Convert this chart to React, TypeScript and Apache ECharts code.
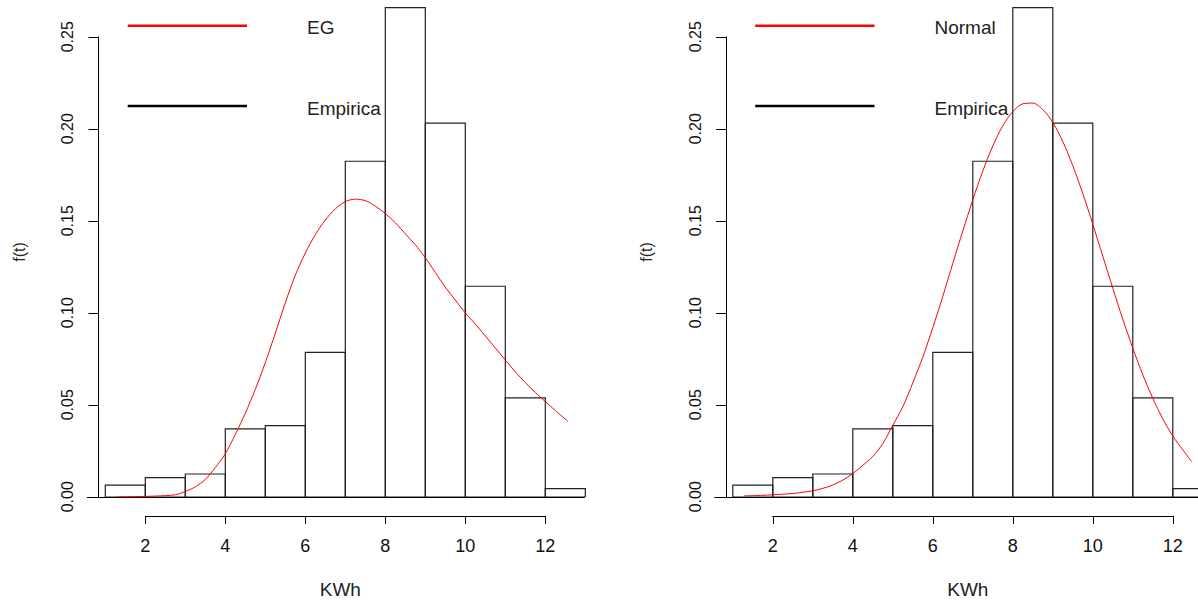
import React, { useEffect, useRef } from "react";
import * as echarts from "echarts";

// Histogram bins (KWh) and empirical densities
const binStarts = [1, 2, 3, 4, 5, 6, 7, 8, 9, 10, 11, 12];
const binEnds = [2, 3, 4, 5, 6, 7, 8, 9, 10, 11, 12, 13];
const density = [0.0064, 0.0105, 0.0125, 0.037, 0.0388, 0.0786, 0.1824, 0.2659, 0.2031, 0.1145, 0.0538, 0.0045];

// EG fitted density (left panel)
const egX = [1.3, 1.75, 2.25, 2.75, 3.0, 3.25, 3.5, 3.75, 4.0, 4.25, 4.5, 4.75, 5.0, 5.25, 5.5, 5.75, 6.0, 6.25, 6.5, 6.75, 7.0, 7.25, 7.5, 7.75, 8.0, 8.25, 8.5, 8.75, 9.0, 9.25, 9.5, 9.75, 10.0, 10.25, 10.5, 10.75, 11.0, 11.25, 11.5, 11.75, 12.0, 12.25, 12.57];
const egY = [0.0, 0.0002, 0.0005, 0.0012, 0.003, 0.0055, 0.0095, 0.016, 0.0235, 0.034, 0.0455, 0.0585, 0.073, 0.089, 0.1055, 0.1205, 0.1325, 0.1425, 0.1505, 0.1565, 0.1605, 0.1618, 0.161, 0.158, 0.154, 0.149, 0.143, 0.137, 0.13, 0.122, 0.114, 0.107, 0.1, 0.094, 0.0875, 0.081, 0.0745, 0.068, 0.0622, 0.0568, 0.0518, 0.047, 0.041];

// Normal fitted density (right panel)
const normalX = [1.28, 1.75, 2.0, 2.5, 3.0, 3.25, 3.5, 3.75, 4.0, 4.25, 4.5, 4.75, 5.0, 5.25, 5.5, 5.75, 6.0, 6.25, 6.5, 6.75, 7.0, 7.25, 7.5, 7.75, 8.0, 8.25, 8.5, 8.75, 9.0, 9.25, 9.5, 9.75, 10.0, 10.25, 10.5, 10.75, 11.0, 11.25, 11.5, 11.75, 12.0, 12.25, 12.47];
const normalY = [0.0006, 0.0009, 0.0012, 0.0019, 0.0034, 0.0047, 0.0065, 0.0092, 0.0127, 0.0172, 0.022, 0.029, 0.039, 0.049, 0.062, 0.076, 0.092, 0.109, 0.127, 0.1445, 0.1615, 0.1771, 0.1907, 0.2017, 0.2094, 0.2136, 0.214, 0.2105, 0.2035, 0.1931, 0.18, 0.1648, 0.1482, 0.1308, 0.1134, 0.0966, 0.0809, 0.0664, 0.0536, 0.0425, 0.0331, 0.0256, 0.0192];

const xLabelText = "KWh";
const yLabelText = "f(t)";
const leftLegend = ["EG", "Empirica"];
const rightLegend = ["Normal", "Empirica"];

const FONT = "'Liberation Sans', Arial, sans-serif";

export default function App() {
  const ref = useRef<HTMLDivElement>(null);

  useEffect(() => {
    if (!ref.current) return;
    const chart = echarts.init(ref.current, undefined, { renderer: "svg" });

    const grids: any[] = [];
    const xAxes: any[] = [];
    const yAxes: any[] = [];
    const series: any[] = [];
    const graphics: any[] = [];

    const unit = 40;
    const panels = [
      { origin: 65.3, xmax: 12.98, name: "EG", cx: egX, cy: egY, legend: leftLegend },
      { origin: 692.8, xmax: (1198 - 692.8) / 40, name: "Normal", cx: normalX, cy: normalY, legend: rightLegend },
    ];

    panels.forEach((p) => {
      const g = grids.length;
      const xmin = 0.55;
      // main data grid
      grids.push({ left: p.origin + unit * xmin, top: 0, width: unit * (p.xmax - xmin), height: 497 });
      xAxes.push({
        gridIndex: g, type: "value", min: xmin, max: p.xmax,
        axisLine: { show: true, onZero: false, lineStyle: { color: "#000", width: 1.2 } },
        axisTick: { show: false }, axisLabel: { show: false }, splitLine: { show: false },
      });
      yAxes.push({ gridIndex: g, type: "value", min: 0, max: 0.27, show: false, splitLine: { show: false } });

      // y tick axis
      grids.push({ left: p.origin + 33.2, top: 36.8, width: 10, height: 460 });
      xAxes.push({ gridIndex: g + 1, type: "value", show: false, splitLine: { show: false } });
      yAxes.push({
        gridIndex: g + 1, type: "value", min: 0, max: 0.25, interval: 0.05, position: "left",
        axisLine: { show: true, onZero: false, lineStyle: { color: "#000", width: 1 } },
        axisTick: { show: true, length: 10, lineStyle: { color: "#000", width: 1 } },
        axisLabel: {
          rotate: 90, margin: 23, fontSize: 16, color: "#111", fontFamily: FONT,
          formatter: (v: number) => v.toFixed(2),
        },
        splitLine: { show: false },
      });

      // x tick axis
      grids.push({ left: p.origin + unit * 2, top: 506, width: unit * 10, height: 10 });
      xAxes.push({
        gridIndex: g + 2, type: "value", min: 2, max: 12, interval: 2, position: "bottom",
        axisLine: { show: true, onZero: false, lineStyle: { color: "#000", width: 1 } },
        axisTick: { show: true, length: 8, lineStyle: { color: "#000", width: 1 } },
        axisLabel: { margin: 21, fontSize: 18, color: "#111", fontFamily: FONT },
        splitLine: { show: false },
      });
      yAxes.push({ gridIndex: g + 2, type: "value", show: false, splitLine: { show: false } });

      series.push({
        type: "custom",
        name: "Empirica",
        xAxisIndex: g, yAxisIndex: g,
        clip: true,
        data: binStarts.map((s, k) => [s, binEnds[k], density[k]]),
        renderItem: (params: any, api: any) => {
          const a = api.coord([api.value(0), api.value(2)]);
          const b = api.coord([api.value(1), 0]);
          return {
            type: "rect",
            shape: { x: a[0], y: a[1], width: b[0] - a[0], height: b[1] - a[1] },
            style: { fill: "none", stroke: "#222", lineWidth: 1.2 },
          };
        },
        z: 2,
      });
      series.push({
        type: "line",
        name: p.name,
        xAxisIndex: g, yAxisIndex: g,
        data: p.cx.map((x, k) => [x, p.cy[k]]),
        symbol: "none",
        smooth: 0.3,
        lineStyle: { color: "#ff0000", width: 1 },
        z: 3,
      });

      const off = p.origin - 65.3;
      // legend (R style)
      graphics.push({ type: "line", shape: { x1: 127.7 + off, y1: 25.7, x2: 247 + off, y2: 25.7 }, style: { stroke: "#ff0000", lineWidth: 2.5 } });
      graphics.push({ type: "line", shape: { x1: 127.7 + off, y1: 106, x2: 247 + off, y2: 106 }, style: { stroke: "#000", lineWidth: 2.5 } });
      graphics.push({ type: "text", x: 307 + off, y: 27, style: { text: p.legend[0], fontSize: 19, fontFamily: FONT, fill: "#222", textVerticalAlign: "middle", verticalAlign: "middle" } });
      graphics.push({ type: "text", x: 307 + off, y: 108, style: { text: p.legend[1], fontSize: 19, fontFamily: FONT, fill: "#222", textVerticalAlign: "middle", verticalAlign: "middle" } });
      // axis titles
      graphics.push({ type: "text", x: 340.3 + off, y: 589.5, style: { text: xLabelText, fontSize: 19, fontFamily: FONT, fill: "#222", align: "center", verticalAlign: "middle", textAlign: "center", textVerticalAlign: "middle" } });
      graphics.push({ type: "text", x: 19 + off, y: 252, rotation: Math.PI / 2, style: { text: yLabelText, fontSize: 16, fontFamily: FONT, fill: "#222", align: "center", verticalAlign: "middle", textAlign: "center", textVerticalAlign: "middle" } });
    });

    chart.setOption({
      animation: false,
      backgroundColor: "#ffffff",
      grid: grids,
      xAxis: xAxes,
      yAxis: yAxes,
      series,
      graphic: graphics,
    });

    return () => chart.dispose();
  }, []);

  return <div ref={ref} style={{ position: "absolute", left: 0, top: 0, width: 1198, height: 602, background: "#fff" }} />;
}
